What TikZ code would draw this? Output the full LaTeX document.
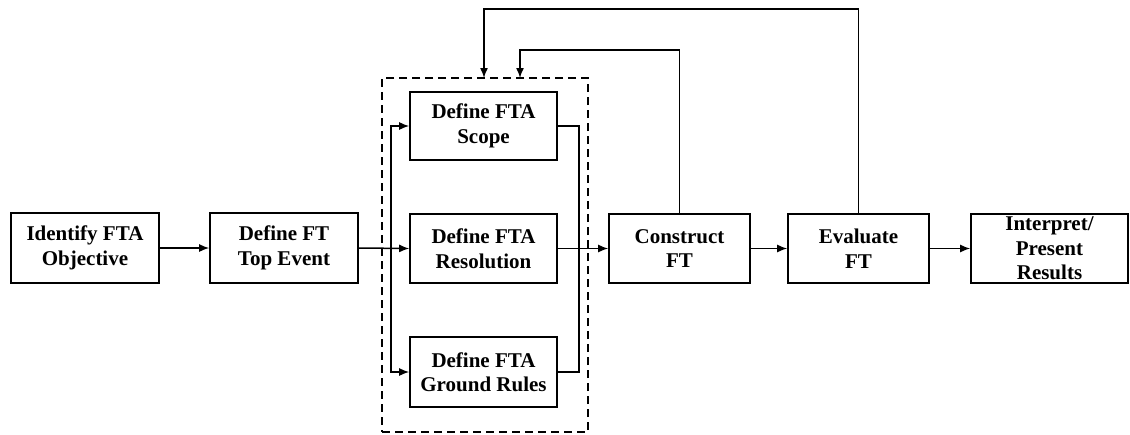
\documentclass[tikz,border=0pt]{standalone}
\usepackage{fontspec}
\setmainfont{Liberation Serif}
\usetikzlibrary{arrows.meta}
\begin{document}
\begin{tikzpicture}[x=1pt,y=-1pt,
  stepbox/.style={draw, line width=1.6pt, rectangle, align=center, inner sep=0pt,
    font=\fontsize{21}{24.5}\selectfont\bfseries, text=black},
  conn/.style={line width=1.5pt},
  arr/.style={conn, -{Latex[length=10pt,width=8pt]}},
  grpbox/.style={draw, dashed, line width=1.4pt, dash pattern=on 8pt off 5pt}]
\useasboundingbox (0,0) rectangle (1130,434);
\node[stepbox, minimum width=148pt, minimum height=70pt] (obj) at (85,248) {Identify FTA\\Objective};
\node[stepbox, minimum width=148pt, minimum height=70pt] (top) at (284,248) {Define FT\\Top Event};
\node[grpbox, minimum width=206pt, minimum height=354pt] (grp) at (485,255) {};
\node[stepbox, minimum width=147pt, minimum height=68pt] (scope) at (483.5,126) {Define FTA\\Scope};
\node[stepbox, minimum width=147pt, minimum height=69pt] (res) at (483.5,248.5) {Define FTA\\Resolution};
\node[stepbox, minimum width=147pt, minimum height=70pt] (ground) at (483.5,372) {Define FTA\\Ground Rules};
\node[stepbox, minimum width=141pt, minimum height=69pt] (cons) at (679.5,248.5) {Construct\\FT};
\node[stepbox, minimum width=141pt, minimum height=69pt] (eval) at (858.5,248.5) {Evaluate\\FT};
\node[stepbox, minimum width=157pt, minimum height=69pt] (interp) at (1049.5,248.5) {Interpret/\\Present\\Results};
\coordinate (bl) at (391,248.5);
\coordinate (br) at (579,248.5);
\coordinate (in1) at (484,78);
\coordinate (in2) at (520,78);
\draw[arr] (obj.east) -- (top.west);
\draw[arr] (top.east) -- (res.west);
\draw[arr] (bl) |- (scope.west);
\draw[arr] (bl) |- (ground.west);
\draw[conn] (scope.east) -| (br);
\draw[conn] (ground.east) -| (br);
\draw[arr] (res.east) -- (cons.west);
\draw[arr] (cons.east) -- (eval.west);
\draw[arr] (eval.east) -- (interp.west);
\draw[arr] (cons.north) |- (520,50) -- (in2);
\draw[arr] (eval.north) |- (484,9) -- (in1);
\end{tikzpicture}
\end{document}
